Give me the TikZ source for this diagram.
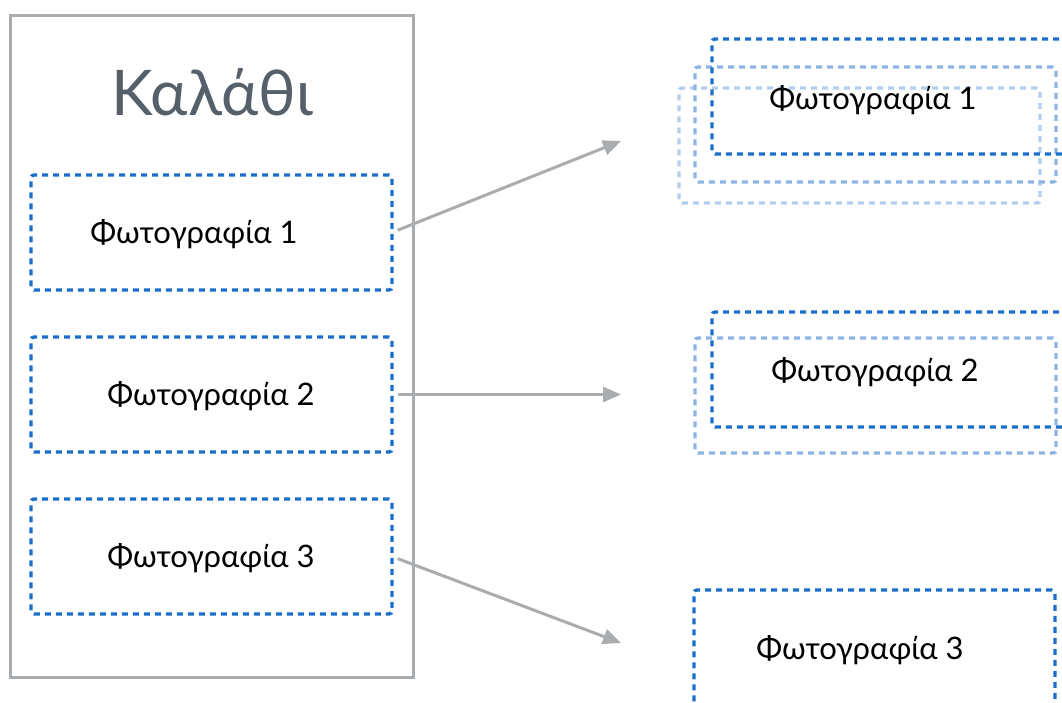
\documentclass[tikz,border=0pt]{standalone}
\usepackage{fontspec}
\setmainfont{Lato}
\usetikzlibrary{arrows.meta}

\definecolor{framegray}{HTML}{A9ADB0}
\definecolor{titlegray}{HTML}{56606A}
\definecolor{photoblue}{HTML}{1B6FC8}
\definecolor{copyblue}{HTML}{8DB4E4}
\definecolor{paleblue}{HTML}{B4CEEE}

\begin{document}
\begin{tikzpicture}[x=1pt, y=-1pt, font=\fontsize{31}{36}\selectfont,
    photo/.style={draw=photoblue, line width=3.4pt, dash pattern=on 6pt off 5pt,
        rounded corners=3pt, minimum width=361pt, minimum height=115pt,
        inner sep=0pt, outer sep=0pt, anchor=north west},
    link/.style={draw=framegray, line width=3pt, shorten <=6pt,
        -{Triangle[length=18pt, width=15pt]}}]
    % Canvas
    \useasboundingbox (0,0) rectangle (1062,702);
    \clip (0,0) rectangle (1062,702);
    % Define the basket as a rectangle
    \draw[framegray, line width=3pt] (10,15) rectangle (413,677);
    \node[titlegray, font=\fontsize{63}{68}\selectfont] (title) at (212,92) {Καλάθι};
    % photos in the basket
    \node[photo] (b1) at (31,175) {};
    \node[photo] (b2) at (31,337) {};
    \node[photo] (b3) at (31,499) {};
    \node (t1) at (194,234) {Φωτογραφία 1};
    \node (t2) at (211,396) {Φωτογραφία 2};
    \node (t3) at (211,558) {Φωτογραφία 3};
    % copies on the right
    \node[photo, draw=paleblue] (c1b) at (679,88) {};
    \node[photo, draw=copyblue] (c1a) at (695,67) {};
    \node[photo] (c1) at (712,39) {};
    \node[photo, draw=copyblue] (c2a) at (695,338) {};
    \node[photo] (c2) at (712,312) {};
    \node[photo] (c3) at (694,590) {};
    \node (s1) at (873,100) {Φωτογραφία 1};
    \node (s2) at (875,372) {Φωτογραφία 2};
    \node (s3) at (860,650) {Φωτογραφία 3};
    % arrows
    \coordinate (a1) at (621,141);
    \coordinate (a2) at (621,394.5);
    \coordinate (a3) at (621,643);
    \draw[link] (b1.east) -- (a1);
    \draw[link] (b2.east) -- (a2);
    \draw[link] (b3.east) -- (a3);
\end{tikzpicture}
\end{document}
